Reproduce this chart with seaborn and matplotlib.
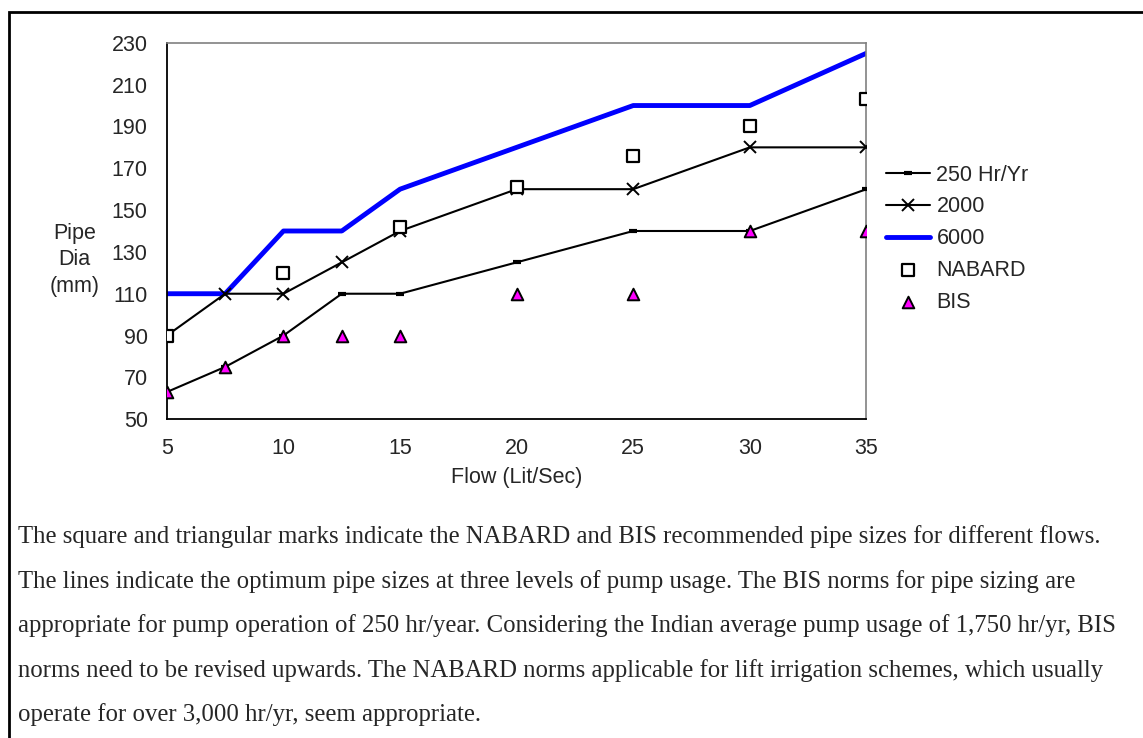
import seaborn as sns
import matplotlib
matplotlib.use("Agg")
import matplotlib.pyplot as plt
from matplotlib.patches import Rectangle

# data
flow = [5, 7.5, 10, 12.5, 15, 20, 25, 30, 35]
hr250 = [63, 75, 90, 110, 110, 125, 140, 140, 160]
hr2000 = [90, 110, 110, 125, 140, 160, 160, 180, 180]
hr6000 = [110, 110, 140, 140, 160, 180, 200, 200, 225]
nabard_flow = [5, 10, 15, 20, 25, 30, 35]
nabard = [90, 120, 142, 161, 176, 190, 203]
bis_flow = [5, 7.5, 10, 12.5, 15, 20, 25, 30, 35]
bis = [63, 75, 90, 90, 90, 110, 110, 140, 140]

x_ticks = [5, 10, 15, 20, 25, 30, 35]
y_ticks = [50, 70, 90, 110, 130, 150, 170, 190, 210, 230]

caption = [
    "The square and triangular marks indicate the NABARD and BIS recommended pipe sizes for different flows.",
    "The lines indicate the optimum pipe sizes at three levels of pump usage. The BIS norms for pipe sizing are",
    "appropriate for pump operation of 250 hr/year. Considering the Indian average pump usage of 1,750 hr/yr, BIS",
    "norms need to be revised upwards. The NABARD norms applicable for lift irrigation schemes, which usually",
    "operate for over 3,000 hr/yr, seem appropriate.",
]

sns.set_style("white")
plt.rcParams['font.family'] = ['Liberation Sans', 'DejaVu Sans']
fs = 15.5

fig = plt.figure(figsize=(11.43, 7.38), dpi=100)
ax = fig.add_axes([0.146, 0.432, 0.612, 0.510])

sns.lineplot(x=flow, y=hr250, ax=ax, color='black', lw=1.5, marker='_',
             markersize=6, markeredgewidth=3, markeredgecolor='black',
             label='250 Hr/Yr', zorder=3)
sns.lineplot(x=flow, y=hr2000, ax=ax, color='black', lw=1.5, marker='x',
             markersize=8, markeredgewidth=1.4, markeredgecolor='black',
             label='2000', zorder=3)
sns.lineplot(x=flow, y=hr6000, ax=ax, color='#0000FF', lw=3.5, label='6000', zorder=2)
sns.scatterplot(x=nabard_flow, y=nabard, ax=ax, marker='s', s=65, color='white',
                edgecolor='black', linewidth=1.6, label='NABARD', zorder=4)
sns.scatterplot(x=bis_flow, y=bis, ax=ax, marker='^', s=70, color='#FF00FF',
                edgecolor='black', linewidth=1.4, label='BIS', zorder=5)

ax.set_xlim(5, 35)
ax.set_ylim(50, 230)
ax.set_xticks(x_ticks)
ax.set_yticks(y_ticks)
ax.tick_params(axis='x', direction='inout', length=9.5, width=1, color='black',
               labelsize=fs, pad=9)
ax.tick_params(axis='y', direction='out', length=5.8, width=1, color='black',
               labelsize=fs, pad=8)

for side in ['left', 'bottom']:
    ax.spines[side].set_color('black')
    ax.spines[side].set_linewidth(1.3)
for side in ['top', 'right']:
    ax.spines[side].set_color('#808080')
    ax.spines[side].set_linewidth(1.2)

ax.set_xlabel('Flow (Lit/Sec)', fontsize=fs)
ax.xaxis.set_label_coords(0.5, -0.154)
ax.xaxis.label.set_va('center')
ax.set_ylabel('Pipe\nDia\n(mm)', fontsize=fs, rotation=0, ha='center', va='center',
              linespacing=1.35)
ax.yaxis.set_label_coords(-0.132, 0.423)

ax.legend(loc='upper left', bbox_to_anchor=(0.775, 0.777), bbox_transform=fig.transFigure,
          frameon=False, fontsize=fs, handlelength=2.05, handletextpad=0.3,
          labelspacing=0.5, borderpad=0, borderaxespad=0)

for i, line in enumerate(caption):
    y = 1 - (537 + i * 44.5) / 738
    fig.text(0.016, y, line, fontsize=17.8, va='center', ha='left',
             family=['Liberation Serif', 'DejaVu Serif'])

# page frame: only its left and top edges fall inside the crop
fig.add_artist(Rectangle((9 / 1143, -0.05), 1.1, 1.05 - 12 / 738,
                         transform=fig.transFigure, fill=False, lw=2, ec='black'))

fig.savefig('out.png', dpi=100)
